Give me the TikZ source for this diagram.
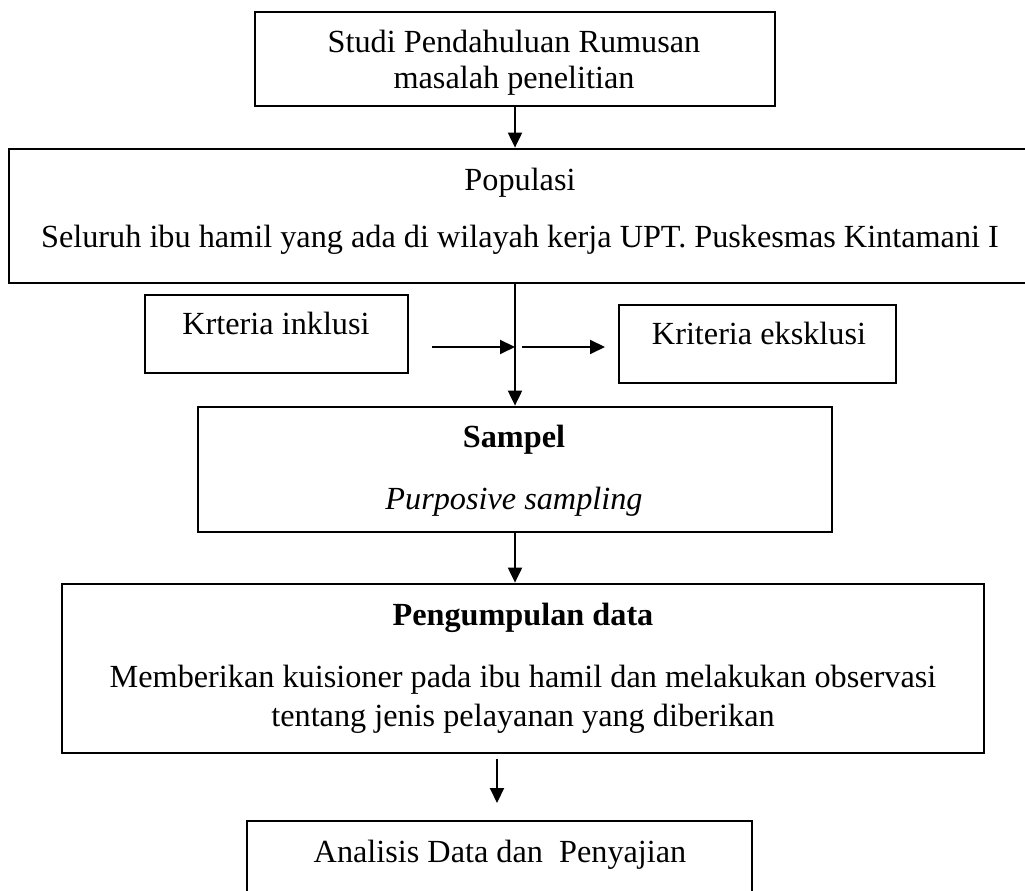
\documentclass[tikz,border=0pt]{standalone}
\usepackage{fontspec}
\setmainfont{Liberation Serif}
\usetikzlibrary{arrows.meta,positioning,calc}
\newcommand{\px}{0.4pt}
\tikzset{
  frame/.style={draw,line width=1.1pt,inner sep=0pt},
  txt/.style={inner sep=0pt,anchor=base,align=center,
              font=\fontsize{12.9}{14.4}\selectfont},
  flow/.style={-{Triangle[length=6pt,width=5.6pt]},line width=.8pt},
}
\begin{document}
\begin{tikzpicture}[x=\px,y=-\px]
  \useasboundingbox (0,0) rectangle (1025,891);
  \clip (0,0) rectangle (1025,891);
  % boxes
  \node[frame,minimum width=520*\px,minimum height=94*\px] (studi) at (515,59){};
  \node[frame,minimum width=1031*\px,minimum height=134*\px] (popul) at (524.5,216){};
  \node[frame,minimum width=263*\px,minimum height=78*\px] (inkl) at (276.5,334){};
  \node[frame,minimum width=277*\px,minimum height=78*\px] (eksk) at (757.5,344){};
  \node[frame,minimum width=634*\px,minimum height=125*\px] (sampel) at (515,469.5){};
  \node[frame,minimum width=922*\px,minimum height=169*\px] (kumpul) at (523,668.5){};
  \node[frame,minimum width=505*\px,minimum height=99*\px] (anal) at (499.5,870.5){};
  % texts (base = last line)
  \node[txt] (tStudi) at (514,89) {Studi Pendahuluan Rumusan\\masalah penelitian};
  \node[txt] (tPopul) at (520,248) {Populasi\\[8.4pt]Seluruh ibu hamil yang ada di wilayah kerja UPT. Puskesmas Kintamani I};
  \node[txt] (tInkl) at (276,335) {Krteria inklusi};
  \node[txt] (tEksk) at (759,345) {Kriteria eksklusi};
  \node[txt] (tSampel) at (514,509) {\textbf{Sampel}\\[10.4pt]\textit{Purposive sampling}};
  \node[txt] (tKumpul) at (523,726) {\textbf{Pengumpulan data}\\[10.4pt]Memberikan kuisioner pada ibu hamil dan melakukan observasi\\[1.2pt]tentang jenis pelayanan yang diberikan};
  \node[txt] (tAnal) at (500,862) {Analisis Data dan\ \ Penyajian};
  % arrows
  \coordinate (inA) at (432,347);
  \coordinate (exA) at (522,347);
  \coordinate (exB) at (605,347);
  \coordinate (daA) at (497,759);
  \coordinate (daB) at (497,803);
  \draw[flow] (studi.south) -- (studi.south |- popul.north);
  \draw[flow] (sampel.north |- popul.south) -- (sampel.north);
  \draw[flow] (inA) -- (inA -| sampel.north);
  \draw[flow] (exA) -- (exB);
  \draw[flow] (sampel.south) -- (sampel.south |- kumpul.north);
  \draw[flow] (daA) -- (daB);
\end{tikzpicture}
\end{document}
